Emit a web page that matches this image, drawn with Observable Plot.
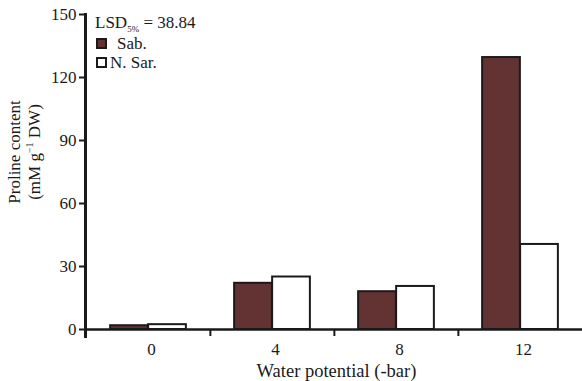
<!DOCTYPE html>
<html><head><meta charset="utf-8">
<script src="https://cdn.jsdelivr.net/npm/d3@7"></script>
<script src="https://cdn.jsdelivr.net/npm/@observablehq/plot@0.6"></script>
<style>body{margin:0;background:#fff} #chart{position:relative;width:582px;height:381px}</style>
</head><body><div id="chart"></div>
<script>
const categories = ["0", "4", "8", "12"];
const series = ["Sab.", "N. Sar."];
const sab = [1.8, 22, 18, 129.5];
const nsar = [2.3, 25, 20.5, 40.5];
const yTicks = [0, 30, 60, 90, 120, 150];
const xLabel = "Water potential (-bar)";
const yLabel1 = "Proline content";
const lsdValue = "= 38.84";

const data = categories.flatMap((c, i) => [
  {cat: c, series: series[0], value: sab[i]},
  {cat: c, series: series[1], value: nsar[i]}
]);

const W = 582, H = 381, ml = 85, mr = 0, mt = 14, mb = 52;
const step = (W - ml - mr) / categories.length;
const barW = 38;
const ink = "#1a1a1a";
const sabFill = "#633333";
const font = "'Liberation Serif', 'Times New Roman', serif";

const plot = Plot.plot({
  width: W, height: H,
  marginLeft: ml, marginRight: mr, marginTop: mt, marginBottom: mb,
  style: {fontFamily: font, fontSize: "17px", color: ink, background: "white", overflow: "visible"},
  x: {domain: categories, padding: 0, label: null},
  y: {domain: [0, 150], label: null},
  marks: [
    Plot.barY(data.filter(d => d.series === series[0]), {
      x: "cat", y: "value", fill: sabFill, stroke: ink, strokeWidth: 2,
      insetLeft: step / 2 - barW, insetRight: step / 2
    }),
    Plot.barY(data.filter(d => d.series === series[1]), {
      x: "cat", y: "value", fill: "white", stroke: ink, strokeWidth: 2,
      insetLeft: step / 2, insetRight: step / 2 - barW
    }),
    Plot.ruleY([0], {stroke: ink, strokeWidth: 2.5}),
    Plot.frame({anchor: "left", stroke: ink, strokeWidth: 3, insetBottom: -7}),
    Plot.axisY({ticks: yTicks, tickSize: 6, tickPadding: 3, stroke: ink, strokeWidth: 2, fontSize: 17, label: null}),
    Plot.axisX({tickSize: 0, tickPadding: 13, fontSize: 17, label: null, dx: 3}),
    Plot.axisX({ticks: categories.slice(1), tickSize: 7, tickFormat: () => "", dx: -step / 2, stroke: ink, strokeWidth: 2, label: null}),
    Plot.text([xLabel], {frameAnchor: "bottom", dy: 42, dx: 2.5, fontSize: 18.5, lineAnchor: "middle", fill: ink})
  ]
});

document.getElementById("chart").appendChild(plot);
const svg = d3.select(plot);

function addText(sel) {
  return sel.append("text")
    .attr("text-anchor", "start")
    .style("font-family", font).style("font-size", "17px").attr("fill", ink);
}

// y-axis title (two rotated lines)
addText(svg).attr("text-anchor", "middle")
  .attr("transform", "translate(20,152) rotate(-90)")
  .text(yLabel1);
const yt2 = addText(svg).attr("text-anchor", "middle")
  .attr("transform", "translate(40,152) rotate(-90)");
yt2.append("tspan").text("(mM g");
yt2.append("tspan").attr("dy", -7).style("font-size", "10px").text("\u22121");
yt2.append("tspan").attr("dy", 7).text(" DW)");

// legend
const lsd = addText(svg).attr("x", 95).attr("y", 28);
lsd.append("tspan").text("LSD");
lsd.append("tspan").attr("dy", 4).style("font-size", "9px").text("5%");
lsd.append("tspan").attr("dy", -4).text(" " + lsdValue);

const legendItems = [
  {name: series[0], fill: sabFill, y: 39, tx: 117},
  {name: series[1], fill: "white", y: 58, tx: 110}
];
legendItems.forEach(it => {
  svg.append("rect").attr("x", 97).attr("y", it.y).attr("width", 9).attr("height", 9)
    .attr("fill", it.fill).attr("stroke", ink).attr("stroke-width", 2);
  addText(svg).attr("x", it.tx).attr("y", it.y + 10).text(it.name);
});
</script>
</body></html>
